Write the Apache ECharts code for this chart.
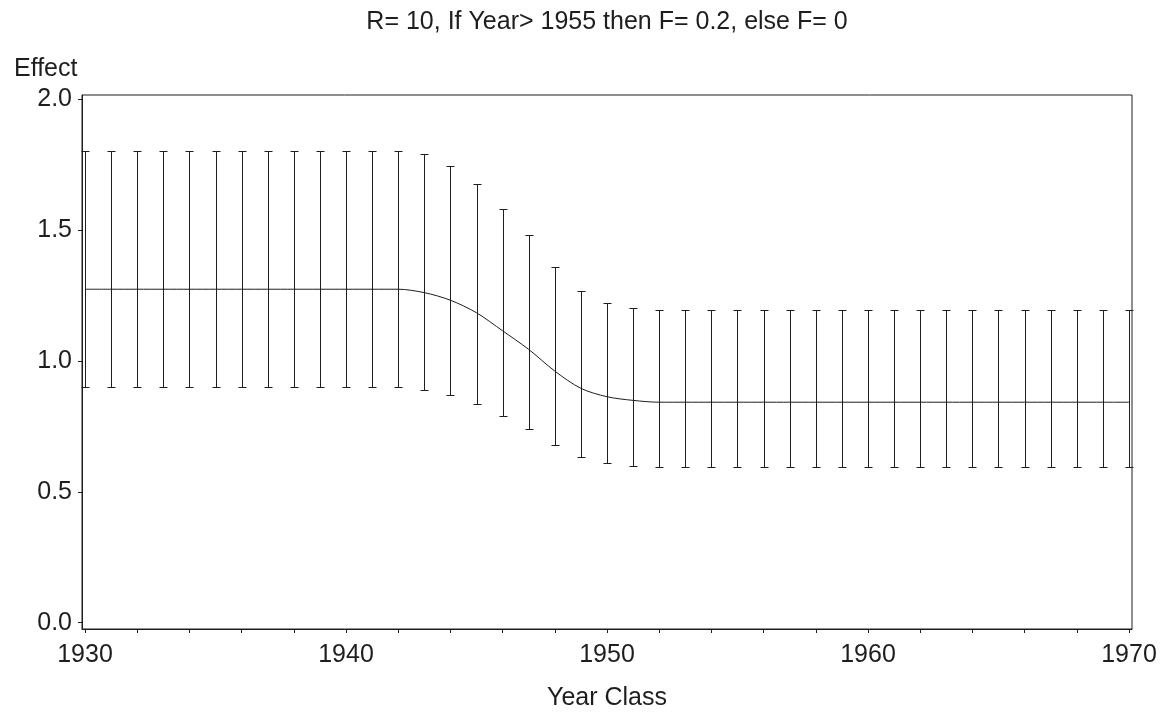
<!DOCTYPE html>
<html>
<head>
<meta charset="utf-8">
<script src="https://cdn.jsdelivr.net/npm/echarts@6/dist/echarts.min.js"></script>
<style>
html,body{margin:0;padding:0;background:#fff;}
#chart{width:1164px;height:717px;}
</style>
</head>
<body>
<div id="chart"></div>
<script>
// ---- data ----
const years = [1930,1931,1932,1933,1934,1935,1936,1937,1938,1939,1940,1941,1942,1943,1944,1945,1946,1947,1948,1949,1950,1951,1952,1953,1954,1955,1956,1957,1958,1959,1960,1961,1962,1963,1964,1965,1966,1967,1968,1969,1970];
const effect = [1.275,1.275,1.275,1.275,1.275,1.275,1.275,1.275,1.275,1.275,1.275,1.275,1.275,1.262,1.233,1.185,1.116,1.045,0.962,0.896,0.864,0.850,0.843,0.843,0.843,0.843,0.843,0.843,0.843,0.843,0.843,0.843,0.843,0.843,0.843,0.843,0.843,0.843,0.843,0.843,0.843];
const upper = [1.805,1.805,1.805,1.805,1.805,1.805,1.805,1.805,1.805,1.805,1.805,1.805,1.805,1.791,1.748,1.679,1.583,1.483,1.359,1.270,1.223,1.203,1.195,1.195,1.195,1.195,1.195,1.195,1.195,1.195,1.195,1.195,1.195,1.195,1.195,1.195,1.195,1.195,1.195,1.195,1.195];
const lower = [0.900,0.900,0.900,0.900,0.900,0.900,0.900,0.900,0.900,0.900,0.900,0.900,0.900,0.890,0.869,0.835,0.789,0.739,0.678,0.633,0.609,0.598,0.595,0.595,0.595,0.595,0.595,0.595,0.595,0.595,0.595,0.595,0.595,0.595,0.595,0.595,0.595,0.595,0.595,0.595,0.595];
const xLabels = [1930,1940,1950,1960,1970];
const xTicks = [1930,1932,1934,1936,1938,1940,1942,1944,1946,1948,1950,1952,1954,1956,1958,1960,1962,1964,1966,1968,1970];
const yLabels = [0,0.5,1.0,1.5,2.0];
const titleText = 'R= 10, If Year> 1955 then F= 0.2, else F= 0';
const yName = 'Effect';
const xName = 'Year Class';

// ---- chart ----
const FONT = '"Liberation Sans", Arial, Helvetica, sans-serif';
const INK = '#1e1e1e';
const chart = echarts.init(document.getElementById('chart'), null, {renderer:'canvas'});

const lineData = years.map((y,i)=>[y,effect[i]]);
const barData = years.map((y,i)=>[y,lower[i],upper[i]]);

const option = {
  backgroundColor:'#ffffff',
  animation:false,
  title:[
    {text:titleText, left:602, top:5, textAlign:'center',
     textStyle:{fontFamily:FONT,fontSize:25,fontWeight:'normal',color:INK}},
    {text:yName, left:9, top:52,
     textStyle:{fontFamily:FONT,fontSize:25,fontWeight:'normal',color:INK}}
  ],
  grid:{left:82,right:32,top:95,bottom:88,show:true,borderColor:INK,borderWidth:1,backgroundColor:'transparent'},
  xAxis:{
    type:'value', min:1929.885, max:1970.115,
    name:xName, nameLocation:'middle', nameGap:57,
    nameTextStyle:{fontFamily:FONT,fontSize:25,color:INK},
    axisLine:{show:true,onZero:false,lineStyle:{color:INK,width:1}},
    axisTick:{show:true,inside:false,length:4,customValues:xTicks,lineStyle:{color:INK}},
    axisLabel:{show:true,margin:14,customValues:xLabels,fontFamily:FONT,fontSize:25,color:INK,formatter:v=>String(Math.round(v))},
    splitLine:{show:false}
  },
  yAxis:{
    type:'value', min:-0.0241, max:2.0176,
    axisLine:{show:true,onZero:false,lineStyle:{color:INK,width:1}},
    axisTick:{show:true,inside:false,length:4,customValues:yLabels,lineStyle:{color:INK}},
    axisLabel:{show:true,margin:10,customValues:yLabels,fontFamily:FONT,fontSize:25,color:INK,formatter:v=>v.toFixed(1)},
    splitLine:{show:false}
  },
  series:[
    {
      type:'custom',
      data:barData,
      encode:{x:0,y:[1,2]},
      renderItem:function(params,api){
        const x = api.value(0);
        const lo = api.coord([x,api.value(1)]);
        const hi = api.coord([x,api.value(2)]);
        const px = Math.round(lo[0])+0.5;
        const yl = Math.round(lo[1])+0.5;
        const yh = Math.round(hi[1])+0.5;
        const w = 4;
        const st = {stroke:INK,lineWidth:1,fill:null};
        return {type:'group',children:[
          {type:'line',shape:{x1:px,y1:yl,x2:px,y2:yh},style:st},
          {type:'line',shape:{x1:px-w,y1:yl,x2:px+w,y2:yl},style:st},
          {type:'line',shape:{x1:px-w,y1:yh,x2:px+w,y2:yh},style:st}
        ]};
      },
      z:3
    },
    {
      type:'line',
      data:lineData,
      smooth:0.3,
      showSymbol:false,
      symbol:'none',
      lineStyle:{color:INK,width:1},
      z:4
    }
  ]
};
chart.setOption(option);
</script>
</body>
</html>
